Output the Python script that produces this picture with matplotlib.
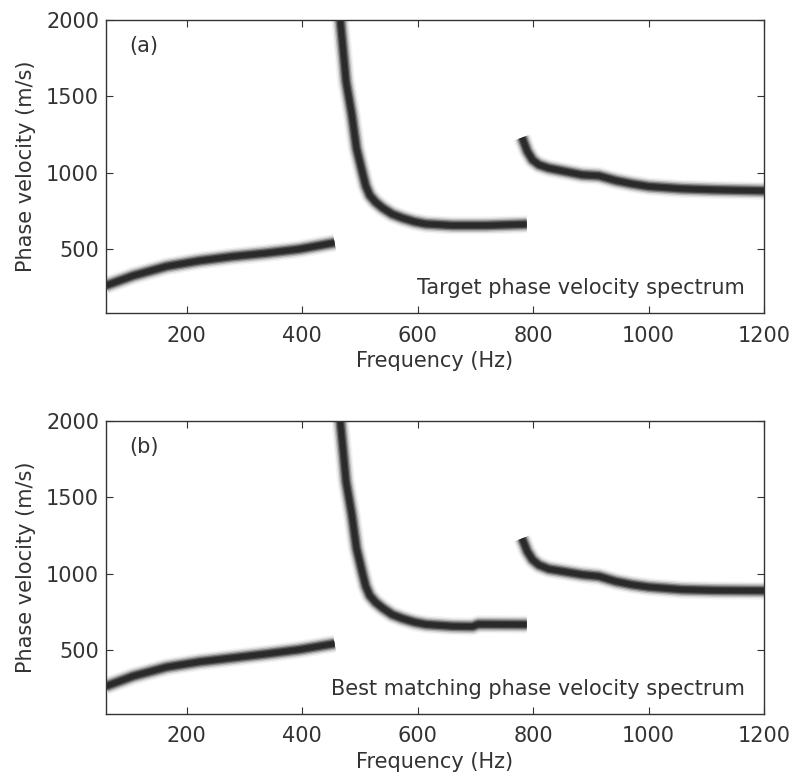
import matplotlib
matplotlib.use("Agg")
import matplotlib.pyplot as plt

# ridge picks (frequency in Hz, phase velocity in m/s)
mode1_f = [60, 107, 165, 222, 280, 338, 395, 456]
mode1_v_target = [262, 326, 387, 424, 452, 474, 500, 542]
mode1_v_best = [262, 328, 387, 422, 448, 474, 502, 541]

mode2_f_target = [466, 476, 486, 494, 505, 510, 517, 527, 539, 556, 574, 594, 614, 660, 718, 789]
mode2_v_target = [2000, 1597, 1379, 1161, 990, 915, 852, 808, 770, 729, 703, 680, 665, 655, 655, 663]
mode2_f_best = [466, 476, 486, 494, 505, 510, 517, 527, 539, 556, 574, 594, 614, 660, 695, 705, 789]
mode2_v_best = [2000, 1603, 1385, 1167, 993, 918, 856, 812, 775, 731, 705, 682, 667, 655, 653, 668, 666]

mode3_f = [781, 790, 799, 810, 827, 885, 914, 943, 972, 1000, 1058, 1116, 1200]
mode3_v_target = [1230, 1140, 1084, 1052, 1030, 986, 980, 949, 927, 910, 895, 888, 882]
mode3_v_best = [1230, 1145, 1091, 1056, 1030, 993, 982, 949, 927, 912, 895, 890, 888]

xticks = [200, 400, 600, 800, 1000, 1200]
yticks = [500, 1000, 1500, 2000]

ink = '#333333'
# blurred ridge: wide pale strokes underneath, narrow dark stroke on top
glow_widths = [13, 11, 9, 7, 5.3, 3.6]
glow_colours = ['#f4f4f4', '#dedede', '#b4b4b4', '#7a7a7a', '#454545', '#2a2a2a']

plt.rcParams['font.family'] = 'DejaVu Sans'
plt.rcParams['font.size'] = 15

fig = plt.figure(figsize=(7.92, 7.77), dpi=100)
ax_a = fig.add_axes([0.1338, 0.5968, 0.8308, 0.3775])
ax_b = fig.add_axes([0.1338, 0.0811, 0.8308, 0.3771])


def draw_panel(ax, branches, tag, caption):
    for f, v in branches:
        for lw, col in zip(glow_widths, glow_colours):
            ax.plot(f, v, color=col, lw=lw, solid_capstyle='butt', solid_joinstyle='round')
    ax.set_xlim(60, 1200)
    ax.set_ylim(80, 2000)
    ax.set_xticks(xticks)
    ax.set_yticks(yticks)
    ax.tick_params(direction='in', length=5, top=True, right=True, colors=ink,
                   labelcolor=ink, labelsize=15, pad=9)
    ax.tick_params(axis='y', pad=5)
    for sp in ax.spines.values():
        sp.set_color(ink)
        sp.set_linewidth(1.0)
    ax.set_xlabel('Frequency (Hz)', color=ink, fontsize=15, labelpad=4)
    ax.set_ylabel('Phase velocity (m/s)', color=ink, fontsize=15, labelpad=7)
    ax.text(0.036, 0.89, tag, transform=ax.transAxes, color=ink, fontsize=15,
            ha='left', va='baseline')
    ax.text(0.971, 0.066, caption, transform=ax.transAxes, color=ink, fontsize=15,
            ha='right', va='baseline')


draw_panel(ax_a, [(mode1_f, mode1_v_target), (mode2_f_target, mode2_v_target),
                  (mode3_f, mode3_v_target)],
           '(a)', 'Target phase velocity spectrum')
draw_panel(ax_b, [(mode1_f, mode1_v_best), (mode2_f_best, mode2_v_best),
                  (mode3_f, mode3_v_best)],
           '(b)', 'Best matching phase velocity spectrum')

fig.savefig('out.png', dpi=100)
